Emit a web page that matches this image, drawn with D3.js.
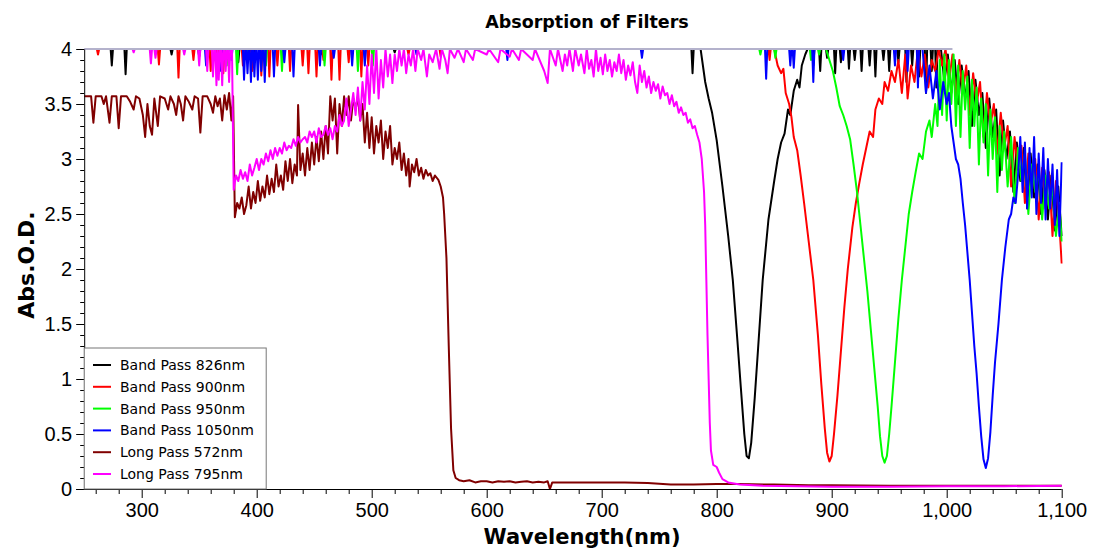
<!DOCTYPE html>
<html>
<head>
<meta charset="utf-8">
<title>Absorption of Filters</title>
<script src="https://d3js.org/d3.v7.min.js"></script>
<style>
body { margin: 0; background: #fff; }
svg { display: block; font-family: "DejaVu Sans", Verdana, sans-serif; }
.tick text { font-size: 20px; fill: #000; }
.tick line, .domain { stroke: #000; }
</style>
</head>
<body>
<svg id="chart"></svg>
<script>
// Saturation ceiling of the spectrometer (Abs.O.D.)
var ceiling = 4;
// wavelength up to which readings sit on the ceiling line
var saturationEnd = 1005;

var seriesNames = ["Band Pass 826nm", "Band Pass 900nm", "Band Pass 950nm", "Band Pass 1050nm", "Long Pass 572nm", "Long Pass 795nm"];
var seriesColors = ["#000000", "#ff0000", "#00ff00", "#0000ff", "#800000", "#ff00ff"];

var xTicks = [300, 400, 500, 600, 700, 800, 900, 1000, 1100];
var yTicks = [0, 0.5, 1, 1.5, 2, 2.5, 3, 3.5, 4];

// dips below the ceiling: [nm, Abs]
var bp826Dips = [[274,3.85],[286,3.77],[326,3.95],[350,3.93],[372,3.9],[384,3.88],[398,3.93],[457,3.95],[520,3.97],[779,3.78],
  [884,3.85],[890,3.8],[896,3.92],[903,3.78],[908,3.88],[915,3.82],[920,3.9],[926,3.8],[933,3.85],[938,3.75],[945,3.9],[950,3.8],[958,3.88],[965,3.7],[970,3.85],[976,3.75],[982,3.6],[987,3.8],[991,3.65]];
// measured readings: [nm, Abs]
var bp826 = [[250,4],[786,4],[790,3.7],[793,3.55],[796,3.42],[800,3.17],[805,2.75],[810,2.3],[814,1.9],[818,1.35],[821,0.92],[824,0.5],[826,0.3],[828,0.28],[830,0.42],[833,0.82],[836,1.28],[840,1.9],[845,2.45],[850,2.8],[853,3.0],[856,3.15],[859,3.23],[862,3.45],[864,3.4],[867,3.62],[870,3.72],[872,3.65],[874,3.85],[877,3.95],[879,4],
  [995,4],[998,3.7],[1001,3.95],[1004,3.6],[1007,3.9],[1010,3.5],[1013,3.85],[1016,3.55],[1019,3.8],[1022,3.3],[1025,3.72],[1028,3.4],[1031,3.6],[1034,3.1],[1037,3.55],[1040,3.2],[1043,3.45],[1046,2.85],[1049,3.35],[1052,3.0],[1055,3.25],[1058,2.7],[1061,3.15],[1064,2.8],[1067,3.1],[1070,2.55],[1073,3.05],[1076,2.65],[1079,2.95],[1082,2.5],[1085,2.9],[1088,2.45],[1091,2.85],[1094,2.35],[1097,2.75],[1100,2.3]];

var bp900Dips = [[262,3.95],[315,3.86],[332,3.74],[345,3.9],[360,3.8],[366,3.88],[371,3.78],[388,3.85],[396,3.8],[404,3.76],[411,3.75],[418,3.85],[429,3.8],[440,3.85],[445,3.78],[452,3.75],[458,3.9],[465,3.72],[472,3.72],[480,3.88],[491,3.75],[497,3.85],[532,3.95],[560,3.93],[846,3.9]];
var bp900 = [[250,4],[850,4],[853,3.85],[856,3.78],[858,3.82],[860,3.6],[863,3.5],[865,3.38],[867,3.2],[870,3.08],[873,2.85],[876,2.6],[880,2.25],[884,1.9],[888,1.4],[891,0.95],[894,0.55],[896,0.33],[898,0.25],[900,0.3],[902,0.5],[905,0.85],[908,1.25],[911,1.65],[914,2.0],[918,2.38],[921,2.6],[924,2.78],[927,2.95],[930,3.1],[933,3.25],[936,3.2],[938,3.45],[941,3.55],[944,3.5],[946,3.7],[949,3.62],[952,3.8],[955,3.7],[958,3.9],[961,3.6],[964,3.95],[966,3.55],[969,3.85],[972,3.7],[975,4],[978,3.75],[981,3.95],[984,3.65],[987,3.9],[990,3.8],[993,4],[996,3.85],[999,4],
  [1002,3.7],[1005,3.95],[1008,3.55],[1011,3.9],[1014,3.6],[1017,3.85],[1020,3.4],[1023,3.78],[1026,3.5],[1029,3.7],[1032,3.2],[1035,3.6],[1038,3.3],[1041,3.5],[1044,3.05],[1047,3.42],[1050,3.1],[1053,3.3],[1056,2.75],[1059,3.2],[1062,2.9],[1065,3.12],[1068,2.6],[1071,3.05],[1074,2.7],[1077,3.0],[1080,2.45],[1083,2.92],[1086,2.55],[1089,2.88],[1092,2.3],[1095,2.8],[1098,2.4],[1100,2.05]];

var bp950Dips = [[374,3.85],[383,3.77],[392,3.9],[408,3.85],[422,3.8],[459,3.85],[488,3.8],[501,3.85],[838,3.95],[851,3.92],[882,3.9],[889,3.95]];
var bp950 = [[250,4],[895,4],[898,3.9],[901,3.8],[904,3.65],[907,3.48],[910,3.4],[913,3.3],[916,3.18],[919,2.95],[922,2.7],[925,2.4],[928,2.1],[931,1.8],[934,1.45],[937,1.1],[940,0.75],[942,0.48],[944,0.3],[946,0.24],[948,0.3],[950,0.5],[952,0.75],[955,1.15],[958,1.55],[961,1.9],[964,2.2],[967,2.5],[970,2.7],[973,2.88],[976,3.05],[979,3.0],[982,3.25],[985,3.35],[987,3.2],[990,3.5],[992,3.3],[994,3.9],[996,3.4],[998,3.95],
  [1000,3.35],[1002,3.9],[1004,3.5],[1006,3.95],[1008,3.3],[1010,3.85],[1012,3.2],[1014,3.8],[1016,3.45],[1018,3.75],[1020,3.1],[1022,3.72],[1024,3.3],[1026,3.65],[1028,2.95],[1030,3.55],[1032,3.15],[1034,3.5],[1036,2.85],[1038,3.45],[1040,3.0],[1042,3.38],[1044,2.7],[1046,3.3],[1048,2.9],[1050,3.25],[1053,2.75],[1056,3.2],[1059,2.6],[1062,3.1],[1065,2.8],[1068,3.05],[1071,2.5],[1074,2.95],[1077,2.7],[1080,2.9],[1083,2.45],[1086,2.85],[1089,2.55],[1092,2.75],[1095,2.3],[1098,2.6],[1100,2.25]];

var bp1050Dips = [[356,3.85],[369,3.8],[378,3.9],[389,3.72],[392,3.78],[395,3.7],[398,3.75],[401,3.72],[404,3.8],[407,3.7],[415,3.75],[424,3.88],[432,3.75],[455,3.85],[467,3.92],[483,3.85],[494,3.85],[539,3.95],[618,3.9],[735,3.92],[843,3.73],[864,3.85],[867,3.83],[884,3.7],[910,3.9],[955,3.85],[966,3.8],[975,3.65]];
var bp1050 = [[250,4],[979,4],[982,3.6],[985,3.85],[988,3.55],[991,3.8],[994,3.45],[997,3.7],[1000,3.5],[1002,3.6],[1004,3.3],[1006,3.15],[1008,3.0],[1010,2.95],[1012,2.82],[1014,2.6],[1016,2.4],[1018,2.15],[1020,1.9],[1022,1.6],[1024,1.3],[1026,1.05],[1028,0.75],[1030,0.48],[1032,0.27],[1034,0.19],[1036,0.28],[1038,0.52],[1040,0.85],[1042,1.15],[1045,1.5],[1048,1.9],[1051,2.2],[1054,2.45],[1056,2.5],[1058,2.65],[1060,2.6],[1062,2.85],[1064,3.2],[1066,2.7],[1068,3.15],[1070,2.55],[1072,3.1],[1074,2.65],[1076,3.2],[1078,2.5],[1080,3.05],[1082,2.6],[1084,3.1],[1086,2.45],[1088,3.0],[1090,2.55],[1092,2.95],[1094,2.4],[1096,2.9],[1098,2.3],[1100,2.97]];

var lp572Dips = [];
var lp572 = [[250,3.57],[256,3.57],[258,3.33],[260,3.57],[265,3.57],[267,3.5],[269,3.57],[272,3.33],[274,3.57],[278,3.57],[280,3.28],[282,3.57],[287,3.57],[290,3.52],[293,3.45],[295,3.57],[298,3.55],[301,3.4],[303,3.2],[305,3.5],[307,3.3],[309,3.22],[311,3.55],[314,3.3],[316,3.57],[320,3.55],[323,3.45],[325,3.57],[328,3.5],[330,3.4],[332,3.57],[334,3.5],[336,3.35],[338,3.57],[341,3.52],[344,3.45],[346,3.57],[349,3.55],[351,3.24],[353,3.57],[357,3.57],[360,3.5],[362,3.42],[364,3.57],[366,3.48],[368,3.55],[370,3.35],[372,3.58],[374,3.45],[376,3.6],[378,3.35],[379.5,3.57],
  [381,2.47],[383,2.6],[385,2.55],[387,2.65],[389,2.5],[391,2.58],[393,2.75],[395,2.55],[397,2.7],[399,2.6],[401,2.8],[403,2.62],[405,2.75],[407,2.65],[409,2.85],[411,2.68],[413,2.82],[415,2.7],[417,2.95],[419,2.75],[421,2.85],[423,2.72],[425,2.98],[427,2.8],[429,3.0],[431,2.78],[433,2.95],[435,2.85],[436,3.49],[438,2.9],[440,3.05],[442,2.85],[444,3.1],[446,2.9],[448,3.15],[450,2.95],[452,3.2],[454,2.98],[456,3.25],[458,3.0],[460,3.3],[462,3.05],[464,3.57],[466,3.35],[468,3.55],[470,3.05],[472,3.5],[474,3.3],[476,3.57],[478,3.4],[480,3.57],[482,3.35],[484,3.55],[486,3.45],[488,3.57],[490,3.35],[492,3.5],[494,3.15],[496,3.42],[498,3.1],[500,3.38],
  [502,3.05],[504,3.3],[506,3.15],[508,3.35],[510,3.0],[512,3.25],[514,3.1],[516,3.3],[518,2.95],[520,3.1],[522,3.0],[524,3.15],[526,2.9],[528,3.05],[530,2.85],[532,3.0],[533,2.75],[535,2.95],[537,2.88],[539,3.0],[541,2.85],[543,2.92],[545,2.82],[547,2.9],[549,2.85],[551,2.87],[553,2.8],[555,2.85],[558,2.81],[560,2.75],[562,2.65],[563,2.5],[565,2.1],[567,1.3],[569,0.55],[571,0.17],[573,0.1],
  [576,0.08],[580,0.07],[585,0.08],[590,0.06],[595,0.07],[600,0.07],[605,0.06],[610,0.07],[615,0.065],[620,0.07],[625,0.06],[630,0.065],[635,0.07],[640,0.06],[645,0.065],[650,0.06],[653,0.07],[655,0.0],[657,0.06],[660,0.06],[680,0.06],[700,0.06],[720,0.06],[740,0.055],[760,0.04],[780,0.04],[800,0.045],[820,0.045],[850,0.04],[880,0.035],[900,0.035],[950,0.03],[1000,0.03],[1050,0.03],[1100,0.03]];

var lp795Dips = [[293,3.97],[308,3.87],[312,3.92],[337,3.95],[350,3.85],[357,3.8],[362,3.75],[365,3.67],[367,3.72],[370,3.67],[373,3.8],[376,3.7]];
var lp795 = [[250,4],[378.5,4],[380,2.72],[382,2.85],[384,2.8],[386,2.9],[388,2.82],[390,2.88],[392,2.8],[394,2.95],[396,2.85],[398,2.92],[400,3.0],[402,2.9],[404,3.0],[406,2.95],[408,3.05],[410,2.98],[412,3.08],[414,3.0],[416,3.1],[418,3.03],[420,3.1],[422,3.05],[424,3.15],[426,3.08],[428,3.12],[430,3.1],[432,3.18],[434,3.12],[436,3.2],[438,3.15],[440,3.18],[442,3.2],[444,3.15],[446,3.25],[448,3.2],[450,3.25],[452,3.15],[454,3.28],[456,3.2],[458,3.22],[460,3.3],[462,3.22],[464,3.28],[466,3.18],[468,3.3],[470,3.25],[472,3.4],[474,3.3],[476,3.35],[478,3.55],[480,3.3],[482,3.45],[484,3.6],[486,3.4],[488,3.65],[490,3.35],[492,3.7],[494,3.45],[496,3.85],[498,3.5],[500,3.95],
  [502,3.6],[504,4],[506,3.55],[508,3.9],[510,3.65],[512,4],[514,3.75],[516,3.95],[518,3.69],[520,3.95],[522,3.8],[524,4],[526,3.85],[528,4],[530,3.78],[532,3.95],[534,3.85],[536,4],[538,3.8],[540,4],[543,3.9],[545,4],[548,3.75],[550,3.95],[553,3.88],[556,4],[559,3.82],[561,4],[564,3.9],[566,3.78],[568,4],[572,3.92],[575,4],[580,3.88],[582,4],[588,3.9],[590,4],[600,3.95],[602,4],[610,3.88],[612,4],[620,3.93],[622,4],[628,3.9],[630,4],[640,3.9],[642,4],[650,3.8],[653,3.69],[655,4],[660,3.85],[662,4],[666,3.8],[668,3.95],[670,3.85],[672,4],[675,3.8],[677,4],[680,3.85],[682,3.95],[685,3.78],[687,4],[689,3.82],[691,3.9],[693,3.75],[695,4],[697,3.8],[699,3.92],
  [701,3.77],[703,3.95],[705,3.8],[707,3.9],[709,3.75],[711,3.88],[713,3.8],[715,3.95],[717,3.78],[719,3.9],[721,3.72],[723,3.85],[725,3.76],[727,3.88],[729,3.7],[731,3.6],[733,3.85],[735,3.7],[737,3.8],[739,3.65],[741,3.75],[743,3.6],[745,3.7],[747,3.62],[749,3.68],[751,3.55],[753,3.66],[755,3.58],[757,3.6],[759,3.5],[761,3.58],[763,3.48],[765,3.52],[767,3.42],[769,3.47],[771,3.4],[773,3.42],[775,3.33],[777,3.36],[779,3.28],[781,3.3],[783,3.22],[785,3.15],[787,3.0],[789,2.7],[790,2.4],[791,1.9],[792,1.4],[793,1.0],[794,0.6],[795,0.35],[797,0.22],[800,0.2],
  [802,0.15],[805,0.09],[810,0.06],[820,0.04],[840,0.03],[870,0.025],[900,0.02],[950,0.02],[1000,0.025],[1050,0.025],[1100,0.03]];

var readings = [bp826, bp900, bp950, bp1050, lp572, lp795];
var dips = [bp826Dips, bp900Dips, bp950Dips, bp1050Dips, lp572Dips, lp795Dips];

var width = 1093, height = 551;
var margin = {left: 84.2, right: 1061.7, top: 49, bottom: 489};

var svg = d3.select('#chart').attr('width', width).attr('height', height);

var x = d3.scaleLinear().domain([250, 1100]).range([margin.left, margin.right]);
var y = d3.scaleLinear().domain([0, 4]).range([margin.bottom, margin.top]);

// merge the ceiling dips (each one a narrow notch) with the measured readings
function buildSeries(dipList, pts) {
    var out = pts.slice();
    dipList.forEach(function (d) {
        out.push([d[0] - 1, ceiling], d, [d[0] + 1, ceiling]);
    });
    return out.sort(function (a, b) { return a[0] - b[0]; });
}

svg.append('defs').append('clipPath').attr('id', 'plot')
    .append('rect')
    .attr('x', margin.left).attr('y', margin.top)
    .attr('width', margin.right - margin.left + 1).attr('height', margin.bottom - margin.top);

var line = d3.line()
    .x(function (d) { return x(d[0]); })
    .y(function (d) { return y(d[1]); });

var plot = svg.append('g').attr('clip-path', 'url(#plot)');
readings.forEach(function (r, i) {
    plot.append('path')
        .datum(buildSeries(dips[i], r))
        .attr('d', line)
        .attr('fill', 'none')
        .attr('stroke', seriesColors[i])
        .attr('stroke-width', 2)
        .attr('stroke-linejoin', 'round');
});

// ceiling line where the detector is saturated
svg.append('line')
    .attr('x1', x(250)).attr('x2', x(saturationEnd))
    .attr('y1', y(ceiling)).attr('y2', y(ceiling))
    .attr('stroke', '#b4b2cc').attr('stroke-width', 2);

// axes, major and minor ticks
var xMinor = d3.range(260, 1101, 20).filter(function (v) { return v % 100 !== 0; });
var yMinor = d3.range(1, 40).map(function (v) { return v / 10; }).filter(function (v) { return Math.round(v * 10) % 5 !== 0; });

svg.append('g').attr('transform', 'translate(0,' + margin.bottom + ')')
    .call(d3.axisBottom(x).tickValues(xMinor).tickSize(5).tickFormat('').tickSizeOuter(0))
    .call(function (g) { g.select('.domain').remove(); });
var xAxis = svg.append('g').attr('transform', 'translate(0,' + margin.bottom + ')')
    .call(d3.axisBottom(x).tickValues(xTicks).tickSize(9).tickSizeOuter(0).tickFormat(d3.format(',')));
xAxis.selectAll('.tick text').attr('y', 14);
xAxis.select('.domain').attr('d', 'M' + (margin.left - 8) + ',0.5H' + margin.right);

svg.append('g').attr('transform', 'translate(' + margin.left + ',0)')
    .call(d3.axisLeft(y).tickValues(yMinor).tickSize(4).tickFormat('').tickSizeOuter(0))
    .call(function (g) { g.select('.domain').remove(); });
svg.append('g').attr('transform', 'translate(' + margin.left + ',0)')
    .call(d3.axisLeft(y).tickValues(yTicks).tickSize(8).tickSizeOuter(0).tickFormat(function (d) { return d; }))
    .selectAll('.tick text').attr('x', -12);

// titles
svg.append('text').attr('x', 587).attr('y', 28).attr('text-anchor', 'middle')
    .style('font-weight', 'bold').style('font-size', '17.5px').text('Absorption of Filters');
svg.append('text').attr('x', 582).attr('y', 544).attr('text-anchor', 'middle')
    .style('font-weight', 'bold').style('font-size', '21px').text('Wavelength(nm)');
svg.append('text').attr('transform', 'translate(34,265)rotate(-90)').attr('text-anchor', 'middle')
    .style('font-weight', 'bold').style('font-size', '22px').text('Abs.O.D.');

// legend
var legend = svg.append('g');
legend.append('rect')
    .attr('x', margin.left).attr('y', 348)
    .attr('width', 182).attr('height', margin.bottom - 348)
    .attr('fill', '#fff').attr('stroke', '#777').attr('stroke-width', 1);
seriesNames.forEach(function (name, i) {
    var ly = 365 + i * 21.8;
    legend.append('line').attr('x1', 93).attr('x2', 111).attr('y1', ly).attr('y2', ly)
        .attr('stroke', seriesColors[i]).attr('stroke-width', 2);
    legend.append('text').attr('x', 120).attr('y', ly).attr('dy', '0.36em')
        .style('font-size', '14px').text(name);
});
</script>
</body>
</html>
